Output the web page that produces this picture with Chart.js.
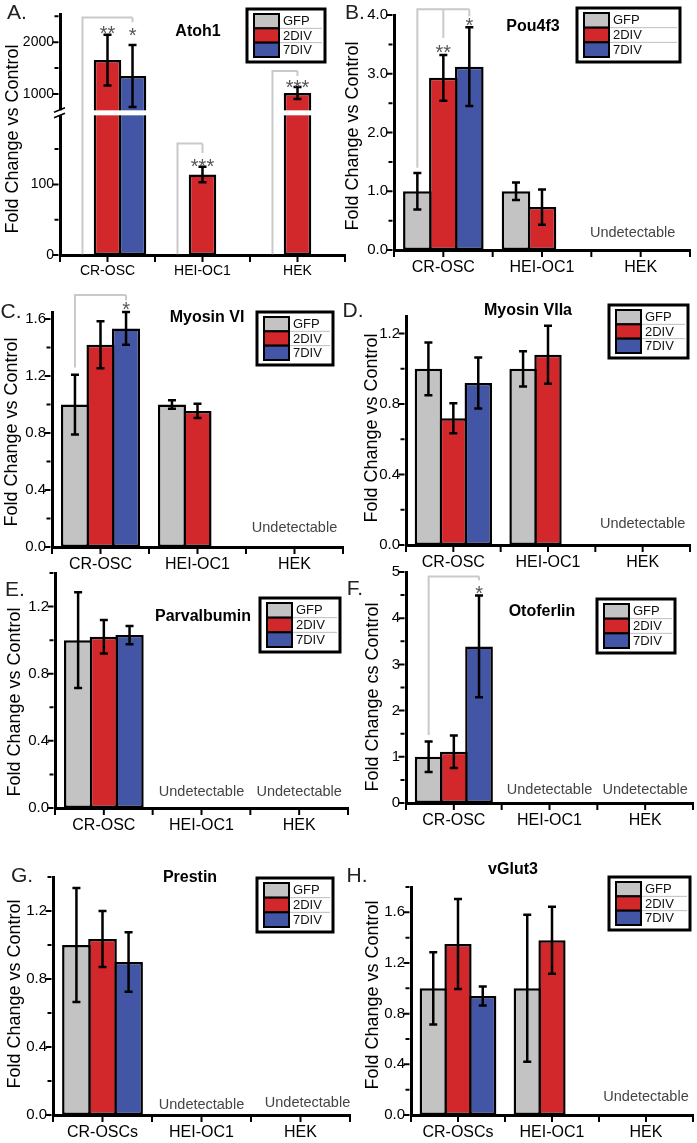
<!DOCTYPE html>
<html>
<head>
<meta charset="utf-8">
<script src="https://cdn.jsdelivr.net/npm/chart.js@4.4.0/dist/chart.umd.min.js"></script>
<style>
  html, body { margin: 0; padding: 0; background: #fff; }
  #wrap { position: relative; width: 697px; height: 1143px; overflow: hidden; background: #fff; }
  #wrap canvas { position: absolute; left: 0; top: 0; }
</style>
</head>
<body>
<div id="wrap"></div>
<script>
// series + categories
const seriesNames = ["GFP", "2DIV", "7DIV"];
const seriesColors = ["#c3c3c3", "#d2282c", "#4356a6"];
const cellLines = ["CR-OSC", "HEI-OC1", "HEK"];
const cellLinesS = ["CR-OSCs", "HEI-OC1", "HEK"];

// A. Atoh1 (broken axis)
const atohGFP = [1, 1, 1];
const atoh2DIV = [1654, 114, 1019];
const atoh7DIV = [1346, null, null];
const atohErrGFP = [0, 0, 0];
const atohErr2DIV = [490, 11, 115];
const atohErr7DIV = [600, null, null];
const atohTicks = [0, 50, 100, 150, 1000, 1500, 2000, 2500];
const atohLabelled = [0, 100, 1000, 2000];

// B. Pou4f3
const pouGFP = [1.0, 1.0, null];
const pou2DIV = [2.93, 0.73, null];
const pou7DIV = [3.12, null, null];
const pouErrGFP = [0.31, 0.15, null];
const pouErr2DIV = [0.39, 0.30, null];
const pouErr7DIV = [0.67, null, null];

// C. Myosin VI
const myo6GFP = [1.0, 1.0, null];
const myo62DIV = [1.42, 0.955, null];
const myo67DIV = [1.535, null, null];
const myo6ErrGFP = [0.21, 0.03, null];
const myo6Err2DIV = [0.165, 0.05, null];
const myo6Err7DIV = [0.115, null, null];

// D. Myosin VIIa
const myo7GFP = [1.0, 1.0, null];
const myo72DIV = [0.72, 1.08, null];
const myo77DIV = [0.92, null, null];
const myo7ErrGFP = [0.15, 0.10, null];
const myo7Err2DIV = [0.085, 0.165, null];
const myo7Err7DIV = [0.145, null, null];

// E. Parvalbumin
const parvGFP = [1.0, null, null];
const parv2DIV = [1.02, null, null];
const parv7DIV = [1.03, null, null];
const parvErrGFP = [0.285, null, null];
const parvErr2DIV = [0.10, null, null];
const parvErr7DIV = [0.055, null, null];

// F. Otoferlin
const otofGFP = [1.0, null, null];
const otof2DIV = [1.11, null, null];
const otof7DIV = [3.39, null, null];
const otofErrGFP = [0.33, null, null];
const otofErr2DIV = [0.35, null, null];
const otofErr7DIV = [1.10, null, null];

// G. Prestin
const presGFP = [1.0, null, null];
const pres2DIV = [1.035, null, null];
const pres7DIV = [0.90, null, null];
const presErrGFP = [0.335, null, null];
const presErr2DIV = [0.165, null, null];
const presErr7DIV = [0.175, null, null];

// H. vGlut3
const vglGFP = [1.0, 1.0, null];
const vgl2DIV = [1.35, 1.38, null];
const vgl7DIV = [0.94, null, null];
const vglErrGFP = [0.285, 0.58, null];
const vglErr2DIV = [0.355, 0.265, null];
const vglErr7DIV = [0.075, null, null];

Chart.defaults.font.family = '"Liberation Sans", Arial, sans-serif';
const FONT = '"Liberation Sans", Arial, sans-serif';
const W = 697, H = 1143;

// broken value axis for Atoh1: 0..200 below the break, 615..2538 above it
const atohBreak = { lowMax: 200, upMin: 615, upMax: 2538, lowFrac: 142 / 242 };

class BrokenScale extends Chart.LinearScale {
  buildTicks() {
    return atohTicks.filter(v => v >= this.min && v <= this.max).map(v => ({ value: v }));
  }
  splitPixel() {
    return this.bottom - (this.bottom - this.top) * atohBreak.lowFrac;
  }
  getPixelForValue(value) {
    const split = this.splitPixel();
    if (value <= atohBreak.lowMax) return this.bottom - value / atohBreak.lowMax * (this.bottom - split);
    return split - (value - atohBreak.upMin) / (atohBreak.upMax - atohBreak.upMin) * (split - this.top);
  }
}
BrokenScale.id = "broken";
BrokenScale.defaults = Chart.LinearScale.defaults;
Chart.register(BrokenScale);

// layout of each panel (pixels), kept apart from the data
const panels = [
  { letter: "A.", letterPos: [17, 13], title: "Atoh1", titlePos: [198, 32], yTitle: "Fold Change vs Control", yTitlePos: [13, 139],
    labels: cellLines, means: [atohGFP, atoh2DIV, atoh7DIV], errs: [atohErrGFP, atohErr2DIV, atohErr7DIV],
    axisX: 60, axisY: 255, axisTop: 13, axisRight: 345, xFont: 14, yFont: 14, broken: true,
    legendBox: [247, 9, 78, 53],
    brackets: [
      { cat: 0, from: 0, to: [2], start: 1, top: 2480, drops: [2385] },
      { cat: 1, from: 0, to: [1], start: 1, top: 158, drops: [144] },
      { cat: 2, from: 0, to: [1], start: 1, top: 1442, drops: [1346] }
    ],
    stars: [
      { cat: 0, ds: 1, v: 2270, t: "**" }, { cat: 0, ds: 2, v: 2230, t: "*" },
      { cat: 1, ds: 1, v: 132, t: "***" }, { cat: 2, ds: 1, v: 1230, t: "***" }
    ],
    undet: [] },
  { letter: "B.", letterPos: [355, 13], title: "Pou4f3", titlePos: [533, 27], yTitle: "Fold Change vs Control", yTitlePos: [353, 136],
    labels: cellLines, means: [pouGFP, pou2DIV, pou7DIV], errs: [pouErrGFP, pouErr2DIV, pouErr7DIV],
    axisX: 394, axisY: 250, axisTop: 12, axisRight: 690, xFont: 16, yFont: 15,
    ymax: 4.0, minor: 0.5, major: 1, dec: 1,
    legendBox: [577, 8, 103, 54],
    brackets: [{ cat: 0, from: 0, to: [1, 2], start: 1.4, top: 4.1, drops: [3.61, 3.98] }],
    stars: [{ cat: 0, ds: 1, v: 3.45, t: "**" }, { cat: 0, ds: 2, v: 3.9, t: "*" }],
    undet: [{ cat: 2, dx: -8, dy: 17 }] },
  { letter: "C.", letterPos: [11, 312], title: "Myosin VI", titlePos: [207, 318], yTitle: "Fold Change vs Control", yTitlePos: [12, 432],
    labels: cellLines, means: [myo6GFP, myo62DIV, myo67DIV], errs: [myo6ErrGFP, myo6Err2DIV, myo6Err7DIV],
    axisX: 52, axisY: 547, axisTop: 312, axisRight: 343, xFont: 16, yFont: 15,
    ymax: 1.65, minor: 0.2, major: 0.4, dec: 1,
    legendBox: [257, 312, 76, 53],
    brackets: [{ cat: 0, from: 0, to: [2], start: 1.26, top: 1.77, drops: [1.73] }],
    stars: [{ cat: 0, ds: 2, v: 1.70, t: "*" }],
    undet: [{ cat: 2, dx: 0, dy: 19 }] },
  { letter: "D.", letterPos: [353, 311], title: "Myosin VIIa", titlePos: [528, 311], yTitle: "Fold Change vs Control", yTitlePos: [372, 428],
    labels: cellLines, means: [myo7GFP, myo72DIV, myo77DIV], errs: [myo7ErrGFP, myo7Err2DIV, myo7Err7DIV],
    axisX: 406, axisY: 545, axisTop: 316, axisRight: 690, xFont: 16, yFont: 15,
    ymax: 1.3, minor: 0.2, major: 0.4, dec: 1,
    legendBox: [609, 305, 79, 53],
    brackets: [], stars: [],
    undet: [{ cat: 2, dx: 0, dy: 21 }] },
  { letter: "E.", letterPos: [15, 590], title: "Parvalbumin", titlePos: [203, 617], yTitle: "Fold Change vs Control", yTitlePos: [15, 702],
    labels: cellLines, means: [parvGFP, parv2DIV, parv7DIV], errs: [parvErrGFP, parvErr2DIV, parvErr7DIV],
    axisX: 55, axisY: 808, axisTop: 573, axisRight: 348, xFont: 16, yFont: 15,
    ymax: 1.4, minor: 0.2, major: 0.4, dec: 1,
    legendBox: [260, 598, 80, 54],
    brackets: [], stars: [],
    undet: [{ cat: 1, dx: 0, dy: 16 }, { cat: 2, dx: 0, dy: 16 }] },
  { letter: "F.", letterPos: [355, 589], title: "Otoferlin", titlePos: [542, 612], yTitle: "Fold Change cs Control", yTitlePos: [373, 697],
    labels: cellLines, means: [otofGFP, otof2DIV, otof7DIV], errs: [otofErrGFP, otofErr2DIV, otofErr7DIV],
    axisX: 406, axisY: 803, axisTop: 572, axisRight: 693, xFont: 16, yFont: 15,
    ymax: 5, minor: 0.5, major: 1, dec: 0,
    legendBox: [597, 599, 78, 54],
    brackets: [{ cat: 0, from: 0, to: [2], start: 1.47, top: 4.9, drops: [4.82] }],
    stars: [{ cat: 0, ds: 2, v: 4.64, t: "*" }],
    undet: [{ cat: 1, dx: 0, dy: 13 }, { cat: 2, dx: 0, dy: 13 }] },
  { letter: "G.", letterPos: [22, 876], title: "Prestin", titlePos: [190, 878], yTitle: "Fold Change vs Control", yTitlePos: [15, 994],
    labels: cellLinesS, means: [presGFP, pres2DIV, pres7DIV], errs: [presErrGFP, presErr2DIV, presErr7DIV],
    axisX: 53, axisY: 1115, axisTop: 877, axisRight: 350, xFont: 16, yFont: 15,
    ymax: 1.4, minor: 0.2, major: 0.4, dec: 1,
    legendBox: [257, 878, 76, 54],
    brackets: [], stars: [],
    undet: [{ cat: 1, dx: 0, dy: 10 }, { cat: 2, dx: 7, dy: 12 }] },
  { letter: "H.", letterPos: [357, 876], title: "vGlut3", titlePos: [513, 870], yTitle: "Fold Change vs Control", yTitlePos: [373, 995],
    labels: cellLinesS, means: [vglGFP, vgl2DIV, vgl7DIV], errs: [vglErrGFP, vglErr2DIV, vglErr7DIV],
    axisX: 411, axisY: 1115, axisTop: 887, axisRight: 693, xFont: 16, yFont: 15,
    ymax: 1.8, minor: 0.2, major: 0.4, dec: 1,
    legendBox: [609, 877, 81, 53],
    brackets: [], stars: [],
    undet: [{ cat: 2, dx: 0, dy: 18 }] }
];

const isMult = (v, step) => Math.abs(v / step - Math.round(v / step)) < 1e-6;

function barStyle(k) {
  return {
    backgroundColor: seriesColors[k], borderColor: "#000", borderWidth: 2.5, borderSkipped: false,
    categoryPercentage: 0.79, barPercentage: 1.1
  };
}

function line(ctx, x0, y0, x1, y1) {
  ctx.moveTo(x0, y0); ctx.lineTo(x1, y1);
}

function decor(p) {
  return {
    id: "decor",
    afterDatasetsDraw(chart) {
      const ctx = chart.ctx;
      const area = chart.chartArea;
      const ys = chart.scales.y;
      ctx.save();

      // axis break
      if (p.broken) {
        const jy = ys.splitPixel();
        ctx.fillStyle = "#fff";
        ctx.fillRect(area.left - 3, jy - 3.5, area.right - area.left + 3, 5);
        ctx.strokeStyle = "#000";
        ctx.lineWidth = 1.6;
        ctx.beginPath();
        line(ctx, area.left - 6, jy - 1.5, area.left + 5, jy - 6);
        line(ctx, area.left - 6, jy + 4, area.left + 5, jy - 0.5);
        ctx.stroke();
      }

      // error bars
      ctx.strokeStyle = "#000";
      ctx.lineWidth = 2.5;
      chart.data.datasets.forEach((ds, i) => {
        const meta = chart.getDatasetMeta(i);
        ds.data.forEach((v, j) => {
          const e = ds.errs[j];
          if (v == null || !e) return;
          const x = meta.data[j].x;
          const yHi = ys.getPixelForValue(v + e), yLo = ys.getPixelForValue(v - e);
          ctx.beginPath();
          line(ctx, x, yLo, x, yHi);
          line(ctx, x - 4, yLo, x + 4, yLo);
          line(ctx, x - 4, yHi, x + 4, yHi);
          ctx.stroke();
        });
      });

      // tick marks
      ctx.lineWidth = 2;
      ctx.beginPath();
      ys.ticks.forEach(t => {
        if (t.value > ys.max + 1e-9) return;
        const major = t.label !== "";
        const py = ys.getPixelForValue(t.value);
        line(ctx, area.left - 1.5, py, area.left - 1.5 - (major ? 6 : 4), py);
      });
      const xs = chart.scales.x;
      for (let k = -0.5; k <= p.labels.length - 0.5; k += 0.5) {
        const px = xs.getPixelForValue(k);
        line(ctx, px, area.bottom + 1.5, px, area.bottom + 7);
      }
      ctx.stroke();
      ctx.restore();
    },
    afterDraw(chart) {
      const ctx = chart.ctx;
      const area = chart.chartArea;
      const yPix = v => chart.scales.y.getPixelForValue(v);
      const barX = (ds, cat) => chart.getDatasetMeta(ds).data[cat].x;
      ctx.save();

      // significance brackets
      ctx.strokeStyle = "#c9c9c9";
      ctx.lineWidth = 2;
      p.brackets.forEach(b => {
        const x0 = barX(b.from, b.cat);
        const xs = b.to.map(k => barX(k, b.cat));
        const yTop = yPix(b.top);
        ctx.beginPath();
        ctx.moveTo(x0, yPix(b.start));
        ctx.lineTo(x0, yTop);
        ctx.lineTo(xs[xs.length - 1], yTop);
        xs.forEach((x, k) => line(ctx, x, yTop, x, yPix(b.drops[k])));
        ctx.stroke();
      });
      ctx.fillStyle = "#555";
      ctx.font = "20px " + FONT;
      ctx.textAlign = "center";
      ctx.textBaseline = "alphabetic";
      p.stars.forEach(s => {
        ctx.fillText(s.t, barX(s.ds, s.cat), yPix(s.v) + 0.58 * 20);
      });

      // "Undetectable"
      ctx.fillStyle = "#444";
      ctx.font = "14.5px " + FONT;
      ctx.textBaseline = "middle";
      p.undet.forEach(u => {
        ctx.fillText("Undetectable", chart.scales.x.getPixelForValue(u.cat) + u.dx, area.bottom - u.dy);
      });

      // gene title
      ctx.fillStyle = "#000";
      ctx.font = "bold 16px " + FONT;
      ctx.fillText(p.title, p.titlePos[0], p.titlePos[1]);

      // panel letter
      ctx.fillStyle = "#222";
      ctx.font = "21px " + FONT;
      ctx.fillText(p.letter, p.letterPos[0], p.letterPos[1]);

      // y axis title
      ctx.fillStyle = "#000";
      ctx.font = "18px " + FONT;
      ctx.translate(p.yTitlePos[0], p.yTitlePos[1]);
      ctx.rotate(-Math.PI / 2);
      ctx.fillText(p.yTitle, 0, 0);
      ctx.setTransform(1, 0, 0, 1, 0, 0);

      // legend box
      const [lx, ly, lw, lh] = p.legendBox;
      const rowH = (lh - 10) / 3;
      ctx.fillStyle = "#fff";
      ctx.fillRect(lx, ly, lw, lh);
      ctx.textAlign = "left";
      ctx.font = "13px " + FONT;
      chart.data.datasets.forEach((ds, i) => {
        const ry = ly + 5 + i * rowH;
        if (i > 0) {
          ctx.strokeStyle = "#bdbdbd";
          ctx.lineWidth = 1;
          ctx.beginPath();
          line(ctx, lx + 32, ry, lx + lw - 3, ry);
          ctx.stroke();
        }
        ctx.fillStyle = ds.backgroundColor;
        ctx.fillRect(lx + 7, ry, 25, rowH);
        ctx.strokeStyle = "#000";
        ctx.lineWidth = 2;
        ctx.strokeRect(lx + 7, ry, 25, rowH);
        ctx.fillStyle = "#111";
        ctx.fillText(ds.label, lx + 36, ry + rowH / 2 + 0.5);
      });
      ctx.strokeStyle = "#000";
      ctx.lineWidth = 3;
      ctx.strokeRect(lx, ly, lw, lh);
      ctx.restore();
    }
  };
}

function makePanel(p) {
  const cv = document.createElement("canvas");
  cv.width = W;
  cv.height = H;
  document.getElementById("wrap").appendChild(cv);

  const datasets = seriesNames.map((name, k) => Object.assign({
    label: name, data: p.means[k], errs: p.errs[k]
  }, barStyle(k)));

  const yTicks = p.broken
    ? { color: "#000", padding: 6, font: { size: p.yFont }, autoSkip: false,
        callback: v => atohLabelled.includes(v) ? String(v) : "" }
    : { stepSize: p.minor, includeBounds: false, color: "#000", padding: 6, font: { size: p.yFont },
        callback: v => isMult(v, p.major) ? v.toFixed(p.dec) : "" };

  new Chart(cv, {
    type: "bar",
    data: { labels: p.labels, datasets: datasets },
    options: {
      animation: false,
      responsive: false,
      devicePixelRatio: 1,
      events: [],
      layout: {
        padding: { left: p.axisX - 40, right: W - p.axisRight, top: p.axisTop, bottom: H - p.axisY - 30 }
      },
      plugins: { legend: { display: false }, tooltip: { enabled: false } },
      scales: {
        x: {
          type: "category", offset: true,
          grid: { display: false, drawTicks: false },
          border: { display: true, width: 3, color: "#000" },
          ticks: { color: "#000", font: { size: p.xFont }, padding: 8, autoSkip: false, maxRotation: 0 },
          afterFit: s => { s.height = 30; }
        },
        y: {
          type: p.broken ? "broken" : "linear",
          position: "left",
          min: 0,
          max: p.broken ? atohBreak.upMax : p.ymax,
          grid: { display: false, drawTicks: false },
          border: { display: true, width: 3, color: "#000" },
          ticks: yTicks,
          afterFit: s => { s.width = 40; }
        }
      }
    },
    plugins: [decor(p)]
  });
}

panels.forEach(makePanel);
</script>
</body>
</html>
